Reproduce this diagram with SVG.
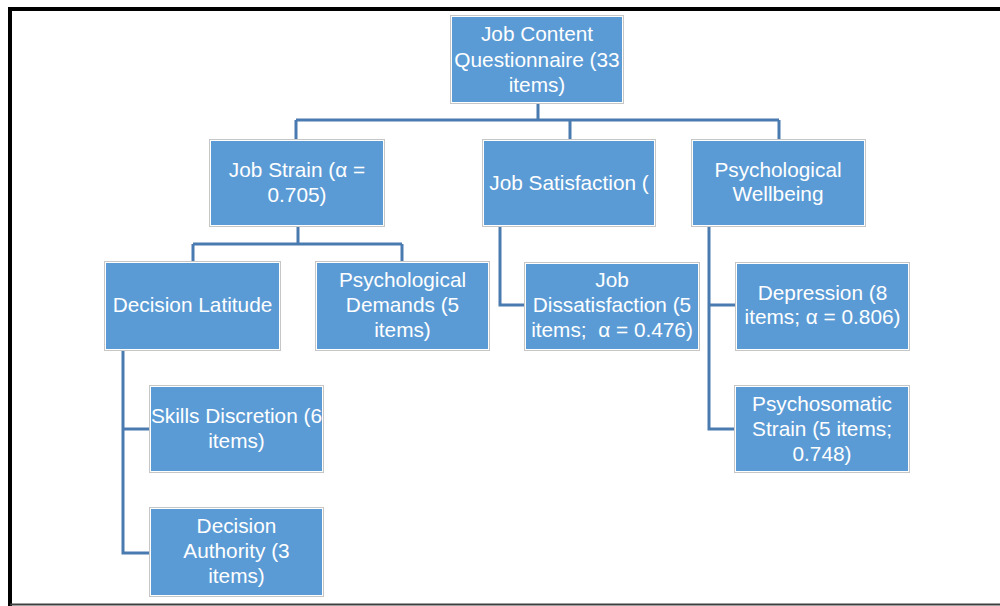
<svg xmlns="http://www.w3.org/2000/svg" width="1000" height="606" viewBox="0 0 1000 606">
  <style>
    .frame { fill: none; stroke: #000; stroke-width: 4; }
    .base { fill: none; stroke: #3f3f3f; stroke-width: 2; }
    .edge { fill: #fff; stroke: #c6c6c6; stroke-width: 1; }
    .box { fill: #5b9bd5; }
    .lbl { font-family: "Liberation Sans", Arial, sans-serif; font-size: 20.8px; fill: #fff; text-anchor: middle; white-space: pre; }
    .link { fill: none; stroke: #4a7bb0; stroke-width: 3; }
  </style>
  <rect width="1000" height="606" fill="#fff"/>
  <!-- page frame -->
  <path class="frame" d="M10 606 V9 H1000"/>
  <path class="base" d="M10 604.5 H1000"/>

  <!-- connectors -->
  <g id="connectors">
    <path class="link" d="M538 104 V120 M296 120 H779 M296 120 V139 M570 120 V139 M779 120 V139"/>
    <path class="link" d="M298 227 V244 M193 244 H402 M193 244 V261 M402 244 V261"/>
    <path class="link" d="M500 227 V305 H524"/>
    <path class="link" d="M709 227 V429 H734 M709 305 H735"/>
    <path class="link" d="M123 351 V553 H149 M123 429 H149"/>
  </g>

  <g id="job-content">
    <rect class="edge" x="450.5" y="15.5" width="173" height="88"/>
    <rect class="box" x="452" y="17" width="170" height="85"/>
    <text class="lbl" x="537" y="41">Job Content</text>
    <text class="lbl" x="537" y="66.5">Questionnaire (33</text>
    <text class="lbl" x="537" y="92">items)</text>
  </g>

  <g id="job-strain">
    <rect class="edge" x="209.5" y="139.5" width="175" height="87"/>
    <rect class="box" x="211" y="141" width="172" height="84"/>
    <text class="lbl" x="297" y="177">Job Strain (α =</text>
    <text class="lbl" x="297" y="202">0.705)</text>
  </g>

  <g id="job-satisfaction">
    <rect class="edge" x="482.5" y="139.5" width="173" height="87"/>
    <rect class="box" x="484" y="141" width="170" height="84"/>
    <text class="lbl" x="569" y="190">Job Satisfaction (</text>
  </g>

  <g id="psychological-wellbeing">
    <rect class="edge" x="691.5" y="139.5" width="174" height="87"/>
    <rect class="box" x="693" y="141" width="171" height="84"/>
    <text class="lbl" x="778" y="177">Psychological</text>
    <text class="lbl" x="778" y="201">Wellbeing</text>
  </g>

  <g id="decision-latitude">
    <rect class="edge" x="104.5" y="261.5" width="176" height="89"/>
    <rect class="box" x="106" y="263" width="173" height="86"/>
    <text class="lbl" x="192.5" y="312">Decision Latitude</text>
  </g>

  <g id="psychological-demands">
    <rect class="edge" x="315.5" y="261.5" width="174" height="89"/>
    <rect class="box" x="317" y="263" width="171" height="86"/>
    <text class="lbl" x="402.5" y="287">Psychological</text>
    <text class="lbl" x="402.5" y="312">Demands (5</text>
    <text class="lbl" x="402.5" y="337">items)</text>
  </g>

  <g id="job-dissatisfaction">
    <rect class="edge" x="524.5" y="262.5" width="175" height="88"/>
    <rect class="box" x="526" y="264" width="172" height="85"/>
    <text class="lbl" x="612" y="287">Job</text>
    <text class="lbl" x="612" y="312">Dissatisfaction (5</text>
    <text class="lbl" x="612" y="337">items;  α = 0.476)</text>
  </g>

  <g id="depression">
    <rect class="edge" x="735.5" y="262.5" width="174" height="88"/>
    <rect class="box" x="737" y="264" width="171" height="85"/>
    <text class="lbl" x="822.5" y="300">Depression (8</text>
    <text class="lbl" x="822.5" y="324">items; α = 0.806)</text>
  </g>

  <g id="skills-discretion">
    <rect class="edge" x="149.5" y="385.5" width="174" height="87"/>
    <rect class="box" x="151" y="387" width="171" height="84"/>
    <text class="lbl" x="236.5" y="423">Skills Discretion (6</text>
    <text class="lbl" x="236.5" y="448">items)</text>
  </g>

  <g id="psychosomatic-strain">
    <rect class="edge" x="734.5" y="385.5" width="175" height="87"/>
    <rect class="box" x="736" y="387" width="172" height="84"/>
    <text class="lbl" x="822" y="411">Psychosomatic</text>
    <text class="lbl" x="822" y="436">Strain (5 items;</text>
    <text class="lbl" x="822" y="461">0.748)</text>
  </g>

  <g id="decision-authority">
    <rect class="edge" x="149.5" y="507.5" width="174" height="89"/>
    <rect class="box" x="151" y="509" width="171" height="86"/>
    <text class="lbl" x="236.5" y="533">Decision</text>
    <text class="lbl" x="236.5" y="558">Authority (3</text>
    <text class="lbl" x="236.5" y="583">items)</text>
  </g>
</svg>
